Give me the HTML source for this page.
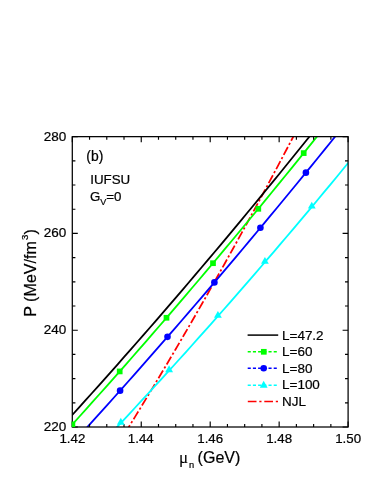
<!DOCTYPE html>
<html>
<head>
<meta charset="utf-8">
<title>P vs mu_n (b)</title>
<style>
html,body{margin:0;padding:0;background:#fff;}
body{width:382px;height:494px;overflow:hidden;font-family:"Liberation Sans",sans-serif;}
svg{display:block;will-change:transform;}
text{font-family:"Liberation Sans",sans-serif;fill:#000;stroke:#000;stroke-width:0.22px;}
</style>
</head>
<body>
<svg width="382" height="494" viewBox="0 0 382 494">
<defs>
<clipPath id="plot"><rect x="72.3" y="136.65" width="275.80" height="290.35"/></clipPath>
<clipPath id="plot2"><rect x="71.7" y="136.05" width="277.00" height="291.55"/></clipPath>
</defs>

<!-- curves -->
<g clip-path="url(#plot)" fill="none" stroke-linecap="butt" stroke-linejoin="round">
  <path d="M295.31,132.80 L290.87,141.29 L286.42,149.75 L281.98,158.17 L277.53,166.56 L273.09,174.92 L268.65,183.23 L264.20,191.52 L259.76,199.76 L255.32,207.97 L250.87,216.15 L246.43,224.29 L241.98,232.40 L237.54,240.47 L233.10,248.50 L228.65,256.50 L224.21,264.47 L219.76,272.40 L215.32,280.29 L210.88,288.15 L206.43,295.98 L201.99,303.76 L197.55,311.52 L193.10,319.23 L188.66,326.92 L184.21,334.56 L179.77,342.17 L175.33,349.75 L170.88,357.29 L166.44,364.80 L161.99,372.27 L157.55,379.70 L153.11,387.10 L148.66,394.47 L144.22,401.80 L139.78,409.09 L135.33,416.35 L130.89,423.57 L126.44,430.76 L122.00,437.91" stroke="#ff0000" stroke-width="1.75" stroke-dasharray="9 2.4 2.2 2.4"/>
  <path d="M110.00,434.46 L116.31,427.76 L122.62,421.03 L128.92,414.27 L135.23,407.49 L141.54,400.68 L147.85,393.85 L154.15,386.98 L160.46,380.10 L166.77,373.18 L173.08,366.24 L179.38,359.27 L185.69,352.28 L192.00,345.25 L198.31,338.21 L204.62,331.13 L210.92,324.03 L217.23,316.91 L223.54,309.75 L229.85,302.57 L236.15,295.36 L242.46,288.13 L248.77,280.87 L255.08,273.59 L261.38,266.27 L267.69,258.93 L274.00,251.57 L280.31,244.18 L286.62,236.76 L292.92,229.31 L299.23,221.84 L305.54,214.34 L311.85,206.82 L318.15,199.27 L324.46,191.69 L330.77,184.09 L337.08,176.45 L343.38,168.80 L349.69,161.11 L356.00,153.40" stroke="#00ffff" stroke-width="1.8"/>
  <path d="M80.00,435.16 L86.79,427.68 L93.59,420.17 L100.38,412.64 L107.18,405.08 L113.97,397.50 L120.77,389.89 L127.56,382.25 L134.36,374.59 L141.15,366.90 L147.95,359.19 L154.74,351.45 L161.54,343.69 L168.33,335.90 L175.13,328.08 L181.92,320.24 L188.72,312.37 L195.51,304.48 L202.31,296.56 L209.10,288.62 L215.90,280.64 L222.69,272.65 L229.49,264.63 L236.28,256.58 L243.08,248.50 L249.87,240.41 L256.67,232.28 L263.46,224.13 L270.26,215.95 L277.05,207.75 L283.85,199.52 L290.64,191.27 L297.44,182.99 L304.23,174.68 L311.03,166.35 L317.82,157.99 L324.62,149.61 L331.41,141.20 L338.21,132.77 L345.00,124.31" stroke="#0000ff" stroke-width="1.8"/>
  <path d="M66.00,431.41 L72.64,424.09 L79.28,416.73 L85.92,409.36 L92.56,401.95 L99.21,394.52 L105.85,387.07 L112.49,379.58 L119.13,372.08 L125.77,364.54 L132.41,356.99 L139.05,349.40 L145.69,341.79 L152.33,334.15 L158.97,326.49 L165.62,318.80 L172.26,311.09 L178.90,303.35 L185.54,295.58 L192.18,287.79 L198.82,279.98 L205.46,272.13 L212.10,264.26 L218.74,256.37 L225.38,248.45 L232.03,240.50 L238.67,232.53 L245.31,224.53 L251.95,216.51 L258.59,208.46 L265.23,200.38 L271.87,192.28 L278.51,184.16 L285.15,176.00 L291.79,167.82 L298.44,159.62 L305.08,151.39 L311.72,143.13 L318.36,134.85 L325.00,126.54" stroke="#00ff00" stroke-width="1.8"/>
  <path d="M66.00,421.83 L72.46,414.73 L78.92,407.59 L85.38,400.44 L91.85,393.26 L98.31,386.05 L104.77,378.82 L111.23,371.56 L117.69,364.28 L124.15,356.97 L130.62,349.64 L137.08,342.28 L143.54,334.89 L150.00,327.48 L156.46,320.05 L162.92,312.59 L169.38,305.10 L175.85,297.59 L182.31,290.05 L188.77,282.49 L195.23,274.90 L201.69,267.29 L208.15,259.65 L214.62,251.99 L221.08,244.30 L227.54,236.58 L234.00,228.84 L240.46,221.08 L246.92,213.29 L253.38,205.47 L259.85,197.63 L266.31,189.76 L272.77,181.87 L279.23,173.95 L285.69,166.01 L292.15,158.04 L298.62,150.04 L305.08,142.02 L311.54,133.98 L318.00,125.91" stroke="#000000" stroke-width="1.8"/>
</g>
<!-- frame + ticks -->
<rect x="72.3" y="136.65" width="275.80" height="290.35" fill="none" stroke="#000" stroke-width="1.25"/>
<path d="M72.30,427.00v-5.5M72.30,136.65v5.5M89.54,427.00v-3.1M89.54,136.65v3.1M106.78,427.00v-3.1M106.78,136.65v3.1M124.01,427.00v-3.1M124.01,136.65v3.1M141.25,427.00v-5.5M141.25,136.65v5.5M158.49,427.00v-3.1M158.49,136.65v3.1M175.73,427.00v-3.1M175.73,136.65v3.1M192.96,427.00v-3.1M192.96,136.65v3.1M210.20,427.00v-5.5M210.20,136.65v5.5M227.44,427.00v-3.1M227.44,136.65v3.1M244.68,427.00v-3.1M244.68,136.65v3.1M261.91,427.00v-3.1M261.91,136.65v3.1M279.15,427.00v-5.5M279.15,136.65v5.5M296.39,427.00v-3.1M296.39,136.65v3.1M313.62,427.00v-3.1M313.62,136.65v3.1M330.86,427.00v-3.1M330.86,136.65v3.1M348.10,427.00v-5.5M348.10,136.65v5.5M72.30,427.00h5.5M348.10,427.00h-5.5M72.30,402.80h3.1M348.10,402.80h-3.1M72.30,378.61h3.1M348.10,378.61h-3.1M72.30,354.41h3.1M348.10,354.41h-3.1M72.30,330.22h5.5M348.10,330.22h-5.5M72.30,306.02h3.1M348.10,306.02h-3.1M72.30,281.82h3.1M348.10,281.82h-3.1M72.30,257.63h3.1M348.10,257.63h-3.1M72.30,233.43h5.5M348.10,233.43h-5.5M72.30,209.24h3.1M348.10,209.24h-3.1M72.30,185.04h3.1M348.10,185.04h-3.1M72.30,160.85h3.1M348.10,160.85h-3.1M72.30,136.65h5.5M348.10,136.65h-5.5" stroke="#000" stroke-width="1.15" fill="none"/>

<!-- markers -->
<g clip-path="url(#plot2)">
<g fill="#00ffff"><path d="M120.80,417.73 l3.9,6.9 h-7.8z"/><path d="M169.10,365.37 l3.9,6.9 h-7.8z"/><path d="M217.90,310.90 l3.9,6.9 h-7.8z"/><path d="M264.90,256.94 l3.9,6.9 h-7.8z"/><path d="M311.80,201.63 l3.9,6.9 h-7.8z"/></g>
<g fill="#0000ff"><circle cx="120.10" cy="390.64" r="3.3"/><circle cx="167.50" cy="336.85" r="3.3"/><circle cx="214.40" cy="282.40" r="3.3"/><circle cx="260.40" cy="227.81" r="3.3"/><circle cx="305.90" cy="172.64" r="3.3"/></g>
<g fill="#00ff00"><rect x="69.55" y="421.50" width="5.7" height="5.7"/><rect x="116.85" y="368.58" width="5.7" height="5.7"/><rect x="163.65" y="314.93" width="5.7" height="5.7"/><rect x="210.15" y="260.35" width="5.7" height="5.7"/><rect x="255.45" y="205.96" width="5.7" height="5.7"/><rect x="300.85" y="150.25" width="5.7" height="5.7"/></g>
</g>

<!-- tick labels -->
<g font-size="13.3px" text-anchor="middle">
  <text x="72.40" y="443.0">1.42</text>
  <text x="140.75" y="443.0">1.44</text>
  <text x="210.20" y="443.0">1.46</text>
  <text x="279.15" y="443.0">1.48</text>
  <text x="348.10" y="443.0">1.50</text>
</g>
<g font-size="13.5px" text-anchor="end">
  <text x="66.2" y="140.65">280</text>
  <text x="66.2" y="237.43">260</text>
  <text x="66.2" y="334.22">240</text>
  <text x="66.2" y="431.00">220</text>
</g>

<!-- axis labels -->
<text x="209.1" y="463.4" font-size="16px" text-anchor="middle"><tspan style="font-family:'Liberation Serif',serif" font-size="17px" stroke-width="0.1" dx="0.6">μ</tspan><tspan font-size="9.3px" dy="4.4" dx="0.7">n</tspan><tspan dy="-4.4" dx="-0.9"> (GeV)</tspan></text>
<text transform="translate(35.9,273) rotate(-90)" font-size="16.1px" text-anchor="middle">P (MeV/fm<tspan font-size="9.6px" dy="-8.3" dx="1.2">3</tspan><tspan dy="8.3">)</tspan></text>

<!-- annotations -->
<text x="86.3" y="160.8" font-size="13.9px">(b)</text>
<text x="90.2" y="183.5" font-size="13.35px">IUFSU</text>
<text x="90" y="200.5" font-size="13.3px">G<tspan font-size="9px" dy="4.4">V</tspan><tspan dy="-4.4">=0</tspan></text>

<!-- legend -->
<g fill="none" stroke-width="1.5">
  <path d="M247.6,335.1 H278.2" stroke="#000"/>
  <path d="M247.7,351.8 H277.4" stroke="#00ff00" stroke-dasharray="3.1 2.1"/>
  <path d="M247.7,368.3 H277.4" stroke="#0000ff" stroke-dasharray="3.1 2.1"/>
  <path d="M247.7,385.2 H277.4" stroke="#00ffff" stroke-dasharray="3.1 2.1"/>
  <path d="M247.8,401.6 H278.2" stroke="#ff0000" stroke-dasharray="8.7 2.8 2.2 2.8"/>
</g>
<g fill="#00ff00"><rect x="260.95" y="348.95" width="5.7" height="5.7"/></g>
<g fill="#0000ff"><circle cx="263.70" cy="368.30" r="3.3"/></g>
<g fill="#00ffff"><path d="M263.70,380.81 l3.9,6.9 h-7.8z"/></g>
<g font-size="13.45px">
  <text x="282.1" y="339.5">L=47.2</text>
  <text x="282.1" y="356.4">L=60</text>
  <text x="282.1" y="373.1">L=80</text>
  <text x="282.1" y="389.3">L=100</text>
  <text x="282.1" y="406.3">NJL</text>
</g>
</svg>
</body>
</html>
